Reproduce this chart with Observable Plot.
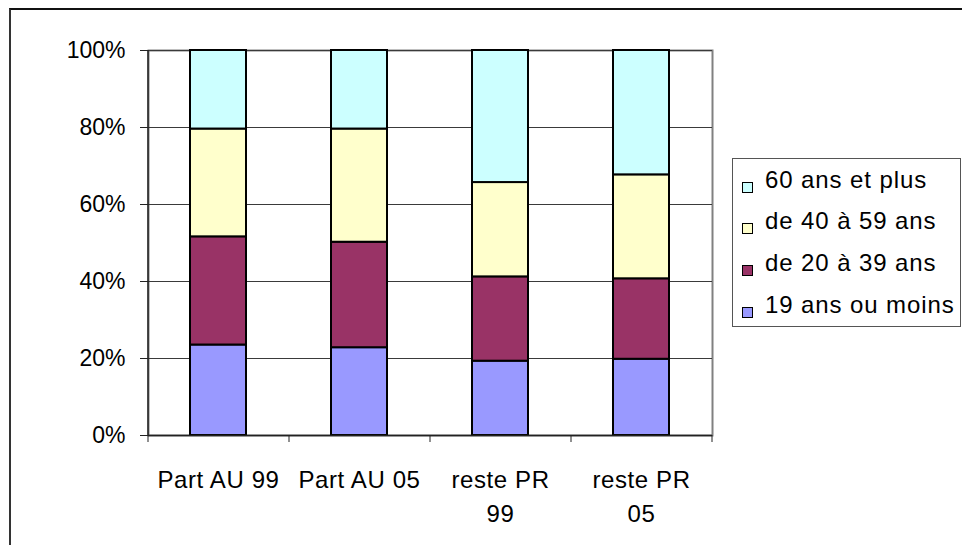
<!DOCTYPE html>
<html><head><meta charset="utf-8">
<script src="https://cdn.jsdelivr.net/npm/d3@7"></script>
<script src="https://cdn.jsdelivr.net/npm/@observablehq/plot@0.6"></script>
<style>
html,body{margin:0;padding:0;background:#fff;overflow:hidden}
#wrap{position:relative;width:962px;height:545px;font-family:"Liberation Sans",Arial,sans-serif;color:#000}
#outer{position:absolute;left:9px;top:8px;width:970px;height:560px;border-left:2px solid #333;border-top:2px solid #111;box-sizing:border-box;pointer-events:none}
#chart{position:absolute;left:0;top:0}
#chart svg g[aria-label="x-axis tick label"] text{letter-spacing:0.6px}
#legend{position:absolute;left:732px;top:158px;width:229px;height:169px;border:1.5px solid #555;box-sizing:border-box;background:#fff}
.row{position:absolute;left:0;height:24px;line-height:24px;font-size:24px;white-space:nowrap;letter-spacing:0.9px}
.sw{position:absolute;left:9px;top:14px;width:11px;height:11px;border:1.5px solid #000;box-sizing:border-box}
.lbl{position:absolute;left:32px;top:0}
</style>
</head><body>
<div id="wrap"><div id="chart"></div><div id="legend"></div><div id="outer"></div></div>
<script>
const categories = ["Part AU 99","Part AU 05","reste PR 99","reste PR 05"];
const xLabels = ["Part AU 99","Part AU 05","reste PR\n99","reste PR\n05"];
const series = ["19 ans ou moins","de 20 à 39 ans","de 40 à 59 ans","60 ans et plus"];
const v19 = [23.5,22.8,19.3,19.8];
const v20 = [28.1,27.4,21.9,20.9];
const v40 = [28.0,29.4,24.5,27.0];
const v60 = [20.4,20.4,34.3,32.3];
const colors = ["#9999FF","#993366","#FFFFCC","#CCFFFF"];
const yTicks = [0,20,40,60,80,100];

const seriesValues = [v19, v20, v40, v60];
const data = [];
series.forEach((s, si) => categories.forEach((c, ci) => data.push({cat: c, series: s, value: seriesValues[si][ci]})));

const halfStep = 70.5;
const chart = Plot.plot({
  width: 962, height: 545,
  marginTop: 50, marginBottom: 110, marginLeft: 148, marginRight: 250,
  style: {fontFamily: "'Liberation Sans', Arial, sans-serif", fontSize: "23px", color: "#000", background: "transparent", overflow: "visible"},
  x: {domain: categories, paddingInner: 0.6, paddingOuter: 0.3},
  y: {domain: [0, 100]},
  color: {domain: series, range: colors},
  marks: [
    Plot.frame({stroke: "#808080", strokeWidth: 2}),
    Plot.gridY(yTicks, {stroke: "#3a3a3a", strokeOpacity: 1, strokeWidth: 1.2}),
    Plot.barY(data, {x: "cat", y: "value", fill: "series", stroke: "#000", strokeWidth: 2, order: series}),
    Plot.ruleY([0], {stroke: "#222", strokeWidth: 1.5}),
    Plot.ruleX([categories[0]], {dx: -halfStep, stroke: "#222", strokeWidth: 1.5}),
    Plot.axisY({ticks: yTicks, tickFormat: d => d + "%", tickSize: 8, tickPadding: 15, label: null, stroke: "#222", fontSize: 23}),
    Plot.axisX({tickSize: 7, tickFormat: () => "", dx: -halfStep, label: null, stroke: "#222"}),
    Plot.axisX({ticks: [categories[categories.length - 1]], tickSize: 7, tickFormat: () => "", dx: halfStep, label: null, stroke: "#222"}),
    Plot.axisX({tickSize: 0, tickPadding: 28, lineHeight: 1.43, tickFormat: d => xLabels[categories.indexOf(d)], label: null, fontSize: 24})
  ]
});
document.getElementById("chart").appendChild(chart);

const legend = document.getElementById("legend");
const order = series.slice().reverse();
order.forEach((s, i) => {
  const row = document.createElement("div");
  row.className = "row";
  row.style.top = (8.5 + i * 41.7) + "px";
  const sw = document.createElement("div");
  sw.className = "sw";
  sw.style.background = colors[series.indexOf(s)];
  const lbl = document.createElement("span");
  lbl.className = "lbl";
  lbl.textContent = s;
  row.appendChild(sw); row.appendChild(lbl);
  legend.appendChild(row);
});
</script>
</body></html>
